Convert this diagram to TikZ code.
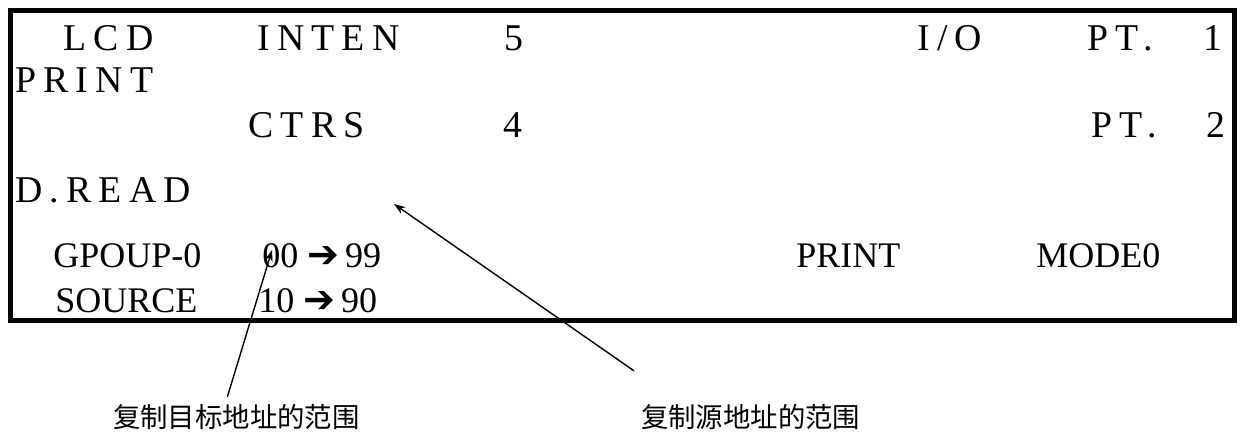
\documentclass[tikz,border=0pt]{standalone}
\usepackage{fontspec}
\setmainfont{Liberation Serif}
\newfontfamily\lcdspaced[LetterSpace=19]{Liberation Serif}
\newfontfamily\arrowglyph{DejaVu Sans}
\newfontfamily\cjk{Noto Sans CJK SC}
\usetikzlibrary{arrows.meta}
\tikzset{lcd/.style={font=\fontsize{18.9}{20}\lcdspaced, anchor=base west, inner sep=0pt}}
\tikzset{menu/.style={font=\fontsize{18}{20}\selectfont, anchor=base west, inner sep=0pt}}
\tikzset{note/.style={font=\fontsize{13.7}{15}\cjk, anchor=base west}}
\tikzset{ptr/.style={-{Stealth[length=2mm, width=1.4mm]}, line width=0.7pt}}
\newcommand{\rangearrow}{{\arrowglyph\fontsize{19}{20}\selectfont ➔}}

\begin{document}
\begin{tikzpicture}[x=0.5pt, y=-0.5pt]
    \useasboundingbox (0, 0) rectangle (1241, 435);
    \draw[line width=2.5pt] (10.5, 10.5) rectangle (1234.5, 320.5);

    \node[lcd] (lcd) at (63, 50) {LCD};
    \node[lcd] (inten) at (257, 50) {INTEN};
    \node[lcd] (intenval) at (504, 50) {5};
    \node[lcd] (io) at (917, 50) {I/O};
    \node[lcd] (ptone) at (1087, 50) {PT.};
    \node[lcd] (ptoneval) at (1203, 50) {1};

    \node[lcd] (print) at (15, 92) {PRINT};

    \node[lcd] (ctrs) at (248, 137) {CTRS};
    \node[lcd] (ctrsval) at (503, 137) {4};
    \node[lcd] (pttwo) at (1091, 137) {PT.};
    \node[lcd] (pttwoval) at (1206, 137) {2};

    \node[lcd] (dread) at (15, 202) {D.READ};

    \node[menu] (group) at (53, 267) {GPOUP-0};
    \node[menu] (grouprange) at (262, 267) {00 \rangearrow\,99};
    \node[menu] (printmode) at (796, 267) {PRINT};
    \node[menu] (mode) at (1036, 267) {MODE0};
    \node[menu] (source) at (55, 312) {SOURCE};
    \node[menu] (sourcerange) at (258, 312) {10 \rangearrow\,90};

    \node[note] (tgtnote) at (106, 427) {复制目标地址的范围};
    \node[note] (srcnote) at (634, 427) {复制源地址的范围};

    \coordinate (tgttip) at (272, 250);
    \coordinate (srctip) at (394, 204);
    \draw[ptr] ([xshift=-4.5pt]tgtnote.north) -- (tgttip);
    \draw[ptr] ([shift={(0, -26)}]srcnote.north west) -- (srctip);
\end{tikzpicture}
\end{document}
